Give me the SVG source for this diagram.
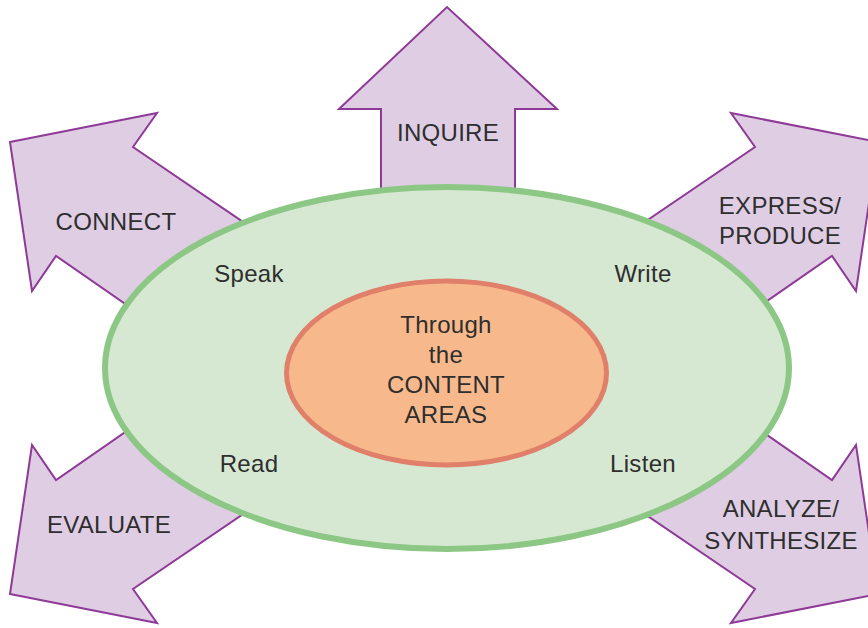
<svg xmlns="http://www.w3.org/2000/svg" width="868" height="628" viewBox="0 0 868 628">
<style>
.arrow{fill:#dfcde4;stroke:#8e3a96;stroke-width:2;stroke-linejoin:miter}
.t{font-family:"Liberation Sans",Arial,sans-serif;font-size:24px;letter-spacing:0.3px;fill:#2e2e2e;text-anchor:middle}
</style>
<rect width="868" height="628" fill="#ffffff"/>
<g id="connectors">
<g id="inquire"><polygon class="arrow" points="381,200 381,109 339,109 447,7 557,109 515,109 515,200"/><text class="t" x="448" y="141">INQUIRE</text></g>
<g id="connect"><polygon class="arrow" points="10,142 157,113 133,147 280,247 160,328 56,256 32,291"/><text class="t" x="116" y="230">CONNECT</text></g>
<g id="express"><polygon class="arrow" points="878,142 731,113 755,147 608,247 728,328 832,256 856,291"/><text class="t" x="780" y="214">EXPRESS/</text><text class="t" x="780" y="244">PRODUCE</text></g>
<g id="evaluate"><polygon class="arrow" points="10,594 157,623 133,589 280,489 160,408 56,480 32,445"/><text class="t" x="109" y="533">EVALUATE</text></g>
<g id="analyze"><polygon class="arrow" points="878,594 731,623 755,589 608,489 728,408 832,480 856,445"/><text class="t" x="781" y="517">ANALYZE/</text><text class="t" x="781" y="549">SYNTHESIZE</text></g>
</g>
<g id="skills">
<ellipse cx="447" cy="368" rx="342" ry="181" fill="#d6e8d2" stroke="#8dc785" stroke-width="6"/>
<text class="t" x="249" y="282">Speak</text>
<text class="t" x="643" y="282">Write</text>
<text class="t" x="249" y="472">Read</text>
<text class="t" x="643" y="472">Listen</text>
</g>
<g id="content">
<ellipse cx="446.5" cy="373" rx="160" ry="92" fill="#f7b98b" stroke="#e07f6a" stroke-width="5"/>
<text class="t" x="446" y="333">Through</text>
<text class="t" x="446" y="363">the</text>
<text class="t" x="446" y="393">CONTENT</text>
<text class="t" x="446" y="423">AREAS</text>
</g>
</svg>
